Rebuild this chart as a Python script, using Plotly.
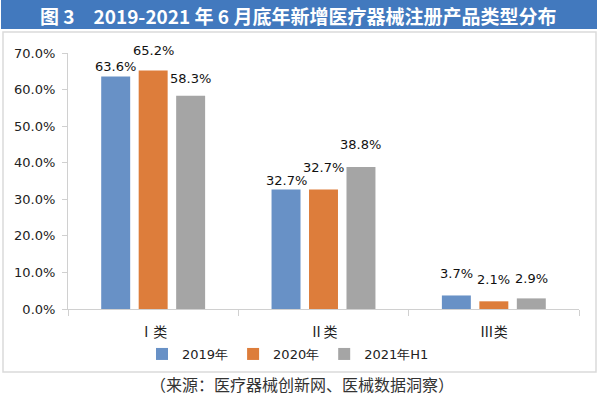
import plotly.graph_objects as go

categories = ["Ⅰ类", "Ⅱ类", "Ⅲ类"]
series_names = ["2019年", "2020年", "2021年H1"]
values_2019 = [63.6, 32.7, 3.7]
values_2020 = [65.2, 32.7, 2.1]
values_2021h1 = [58.3, 38.8, 2.9]
y_ticks = [0, 10, 20, 30, 40, 50, 60, 70]
y_tick_labels = [f"{v:.1f}%" for v in y_ticks]

title_text = "图 3　2019-2021 年 6 月底年新增医疗器械注册产品类型分布"
source_text = "（来源：医疗器械创新网、医械数据洞察）"

colors = ["#6891C6", "#DD7D3B", "#A5A5A5"]
all_values = [values_2019, values_2020, values_2021h1]
# vertical lift (px) of each value label above its bar, per series
label_lifts = [[0, -1, 12], [11, 12, 12], [8, 13, 10]]

W, H = 600, 399
L, R, T, B = 68, 21, 53, 90
pw = W - L - R
ph = H - T - B
BARGAP = 0.34
BARGROUPGAP = 0.227


def px_x(x):
    return (x - L) / pw


def px_y(y):
    return (H - B - y) / ph


fig = go.Figure()
for name, vals, col in zip(series_names, all_values, colors):
    fig.add_trace(go.Bar(
        x=categories, y=vals, name=name, marker_color=col,
        marker_line_width=0, cliponaxis=False,
    ))

# value labels placed above each bar
n = len(all_values)
slot_px = (pw / len(categories)) * (1 - BARGAP) / n
for i, (vals, lifts) in enumerate(zip(all_values, label_lifts)):
    for cat, v, lift in zip(categories, vals, lifts):
        fig.add_annotation(
            x=cat, y=v, xref="x", yref="y", text=f"{v:.1f}%",
            xshift=(i - (n - 1) / 2) * slot_px, yshift=lift,
            xanchor="center", yanchor="bottom", showarrow=False,
            font=dict(family="DejaVu Sans", size=13, color="#111111"),
        )

fig.update_layout(
    width=W, height=H,
    margin=dict(l=L, r=R, t=T, b=B, autoexpand=False),
    paper_bgcolor="white", plot_bgcolor="white",
    barmode="group", bargap=BARGAP, bargroupgap=BARGROUPGAP,
    showlegend=True,
    legend=dict(orientation="h", xref="container", yref="container",
                x=0.48, y=1 - 354 / H, xanchor="center", yanchor="middle",
                font=dict(family="DejaVu Sans", size=13, color="#222222"),
                itemwidth=30, traceorder="normal"),
    font=dict(family="DejaVu Sans", color="#222222"),
)

fig.update_yaxes(
    range=[0, 70], tickmode="array", tickvals=y_ticks, ticktext=y_tick_labels,
    showgrid=False, zeroline=False, showline=True, linecolor="#D0D0D0",
    linewidth=1, ticks="outside", ticklen=5, tickcolor="#D0D0D0",
    tickfont=dict(family="DejaVu Sans", size=13, color="#222222"),
    ticklabelstandoff=4,
)
fig.update_xaxes(
    showgrid=False, showline=True, linecolor="#D0D0D0", linewidth=1,
    ticks="outside", tickson="boundaries", ticklen=6, tickcolor="#D0D0D0",
    tickfont=dict(family="Noto Sans CJK SC", size=14, color="#222222"),
    ticklabelstandoff=10,
)

# title banner
fig.add_shape(type="rect", xref="paper", yref="paper",
              x0=px_x(1), x1=px_x(597), y0=px_y(29), y1=px_y(0),
              fillcolor="#4279BE", line_width=0, layer="below")
# chart border
fig.add_shape(type="rect", xref="paper", yref="paper",
              x0=px_x(3), x1=px_x(596), y0=px_y(372), y1=px_y(32),
              fillcolor="rgba(0,0,0,0)", line=dict(color="#DADADA", width=1.5),
              layer="below")

fig.add_annotation(text="<b>" + title_text + "</b>", xref="paper", yref="paper",
                   x=px_x(298), y=px_y(15), xanchor="center", yanchor="middle",
                   showarrow=False,
                   font=dict(family="Noto Sans CJK SC", size=19, color="white"))
fig.add_annotation(text=source_text, xref="paper", yref="paper",
                   x=px_x(302), y=px_y(384), xanchor="center", yanchor="middle",
                   showarrow=False,
                   font=dict(family="Noto Sans CJK SC", size=16, color="#333333"))

fig.write_html("out.html",
               config={"displayModeBar": False},
               post_script="document.body.style.margin='0';document.body.style.overflow='hidden';")
